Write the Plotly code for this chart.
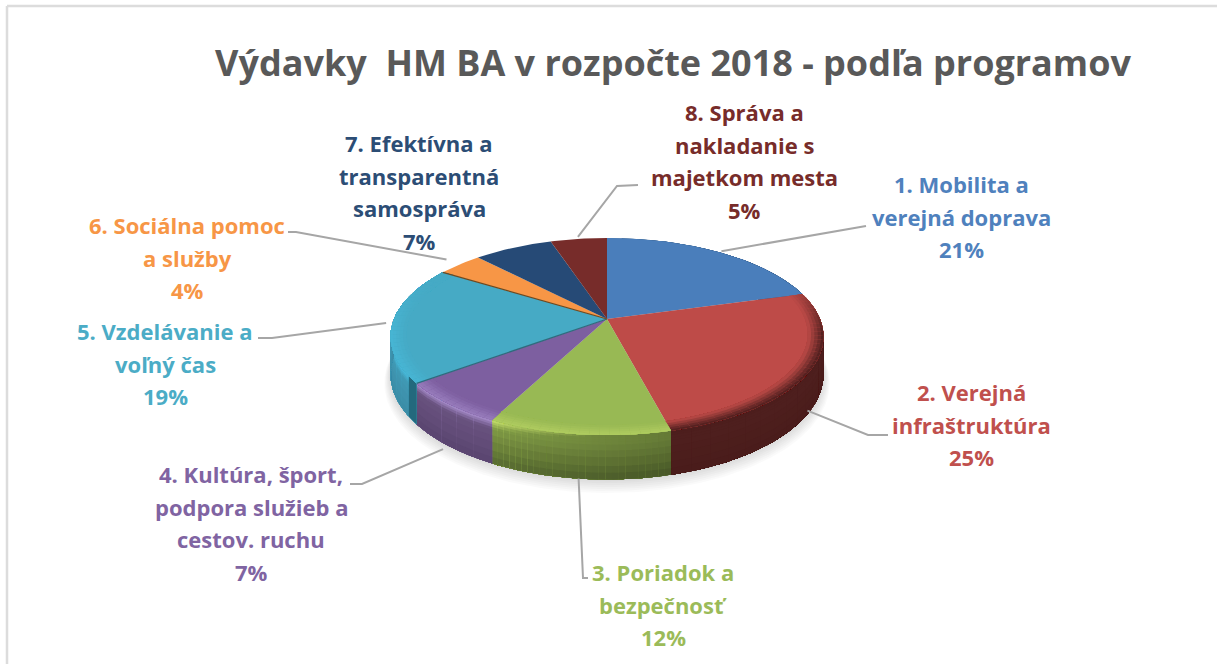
import math
import plotly.graph_objects as go

# ---- data ----
categories = [
    ["1. Mobilita a", "verejná doprava"],
    ["2. Verejná", "infraštruktúra"],
    ["3. Poriadok a", "bezpečnosť"],
    ["4. Kultúra, šport,", "podpora služieb a", "cestov. ruchu"],
    ["5. Vzdelávanie a", "voľný čas"],
    ["6. Sociálna pomoc", "a služby"],
    ["7. Efektívna a", "transparentná", "samospráva"],
    ["8. Správa a", "nakladanie s", "majetkom mesta"],
]
values = [20.6, 25.4, 11.5, 7.2, 19.3, 4, 7, 5]
title_text = "Výdavky  HM BA v rozpočte 2018 - podľa programov"

# ---- styles ----
top_colors = ["#4A7EBB", "#BE4B48", "#98B954", "#7D5FA0", "#46AAC5", "#F79646", "#264A76", "#772C2A"]
text_colors = ["#4F81BD", "#C0504D", "#9BBB59", "#8064A2", "#4BACC6", "#F79646", "#2C4D75", "#772C2A"]
rim_colors = ["#4A7EBB", "#4D1E1D", "#BFD968", "#A98FCE", "#48BEDF", "#F79646", "#264A76", "#772C2A"]
wall_top = ["#3A6391", "#4E1F1E", "#7A9442", "#69527F", "#4099B4", "#B06A30", "#1C3759", "#561F1E"]
wall_bot = ["#2E4F75", "#4A1C1B", "#55672F", "#5A4570", "#3B8CA6", "#8F5626", "#162B46", "#441817"]
# x, y of the first text line (centre), per label
label_pos = [(961, 184), (971, 392), (663, 572), (251, 474), (165, 331), (187, 225), (419, 143), (744, 112)]
line_pitch = 32.5
label_size = 22
# leader: (slice index, radial factor, on wall?, elbow, end)
leaders = [
    (0, 1.02, False, (866, 226), (866, 226)),
    (1, 0.99, True, (868, 435), (888, 435)),
    (2, 1.0, True, (583, 578), (588, 578)),
    (3, 1.03, True, (362, 484), (350, 484)),
    (4, 1.03, False, (272, 338), (258, 338)),
    (5, 1.1, False, (296, 232), (288, 232)),
    (7, 1.03, False, (617, 186), (638, 185)),
]

# ---- projection of a tilted disc (plot coordinates = page pixels) ----
X0, Y0 = 607, 319
BX, AY, K = 213, 95.4, 0.178
DEPTH = 36.5


def proj(theta, r=1.0, drop=0.0):
    u, v = r * math.sin(theta), r * math.cos(theta)
    w = 1 + K * v
    return X0 + BX * u / w, Y0 - AY * v / w + drop * DEPTH / w


def hex2rgb(c):
    return tuple(int(c[i:i + 2], 16) for i in (1, 3, 5))


def mix(a, b, t):
    t = max(0.0, min(1.0, t))
    ra, rb = hex2rgb(a), hex2rgb(b)
    return "#%02X%02X%02X" % tuple(round(p + (q - p) * t) for p, q in zip(ra, rb))


def shade(c, f):
    return "#%02X%02X%02X" % tuple(min(255, round(p * f)) for p in hex2rgb(c))


fig = go.Figure()


def poly(pts, color):
    fig.add_trace(go.Scatter(
        x=[p[0] for p in pts], y=[p[1] for p in pts], mode="lines", fill="toself",
        fillcolor=color, line=dict(color="rgba(0,0,0,0)", width=0),
        hoverinfo="skip", showlegend=False))


def arc(t0, t1, r=1.0, drop=0.0):
    n = max(3, int(abs(t1 - t0) / 0.02))
    return [proj(t0 + (t1 - t0) * j / n, r, drop) for j in range(n + 1)]


total = sum(values)
edges = [0.0]
for val in values:
    edges.append(edges[-1] + val / total * 2 * math.pi)

# soft shadow below the disc
for i in range(7):
    e = 1.0 + 0.004 * (7 - i)
    poly(arc(0, 2 * math.pi, e, 1.0 + 0.03 * (7 - i)), "rgba(0,0,0,0.018)")

# side walls: columns and rows are painted overlapping, so no seams show
rows = [0.0, 0.05, 0.1, 0.16, 0.22, 0.35, 0.5, 0.7, 0.85]
for s in range(len(values)):
    a0, a1 = edges[s], edges[s + 1]
    if math.cos(a0) > 0.3 and math.cos(a1) > 0.3:
        continue
    n = max(4, int((a1 - a0) / (0.025 if s == 2 else 0.08)))
    for j in range(n):
        t0 = a0 + (a1 - a0) * j / n
        tm = a0 + (a1 - a0) * (j + 0.5) / n
        lit = 1.0 - 0.35 * math.sin(tm) if s == 2 else 1.0
        fade = max(0.0, min(1.0, (0.35 - math.cos(tm)) / 0.6))
        if s == 2:
            fade = max(0.0, min(1.0, -math.sin(tm) * 2.2))
        for k, d0 in enumerate(rows):
            d1 = rows[k + 1] if k + 1 < len(rows) else 1.0
            dm = (d0 + d1) / 2
            if dm < 0.2:
                col = mix(rim_colors[s], wall_top[s], dm / 0.2 + (1 - fade))
            else:
                col = mix(wall_top[s], wall_bot[s], (dm - 0.2) / 0.8)
            if s == 2:
                col = shade(col, lit * 0.9)
            poly(arc(t0, a1, 1, d0) + arc(a1, t0, 1, 1.0), col)

# dark cut end of slice 5
a = edges[4]
a2 = a + 0.012 * 2 * math.pi
poly(arc(a, a2, 1, 0.0) + arc(a2, a, 1, 1.0), "#23697D")

# top faces
for s in range(len(values)):
    poly([(X0, Y0)] + arc(edges[s], edges[s + 1]), top_colors[s])

# bevel along the front rim
bands = [0.93, 0.945, 0.96, 0.975, 0.99]
for s in range(1, 5):
    a0, a1 = edges[s], edges[s + 1]
    n = max(4, int((a1 - a0) / 0.04))
    for j in range(n):
        t0 = a0 + (a1 - a0) * j / n
        tm = a0 + (a1 - a0) * (j + 0.5) / n
        fade = max(0.0, min(1.0, (0.45 - math.cos(tm)) / 0.6))
        for k, r0 in enumerate(bands):
            r1 = bands[k + 1] if k + 1 < len(bands) else 1.0
            q = ((r0 + r1) / 2 - bands[0]) / (1.0 - bands[0])
            col = mix(top_colors[s], rim_colors[s], q * fade * (1.0 if s == 1 else 0.6))
            poly(arc(t0, a1, r0) + arc(a1, t0, 1.0), col)

# thin dark creases beside slice 5
for ang, col in ((edges[4], "#2F6B7D"), (edges[5], "#6D4A20")):
    end = proj(ang)
    fig.add_trace(go.Scatter(x=[X0, end[0]], y=[Y0, end[1]], mode="lines",
                             line=dict(color=col, width=1.2), hoverinfo="skip", showlegend=False))

# leader lines
for s, r, on_wall, elbow, end in leaders:
    mid = (edges[s] + edges[s + 1]) / 2
    start = proj(mid, r, 1.0 if on_wall else 0.0)
    fig.add_trace(go.Scatter(x=[start[0], elbow[0], end[0]], y=[start[1], elbow[1], end[1]],
                             mode="lines", line=dict(color="#A6A6A6", width=2),
                             hoverinfo="skip", showlegend=False))

# labels
annotations = []
for s, lines in enumerate(categories):
    cx, cy = label_pos[s]
    pct = "%d%%" % round(values[s] / total * 100)
    for i, line in enumerate(lines + [pct]):
        annotations.append(dict(
            x=cx, y=cy + i * line_pitch, xref="x", yref="y", text="<b>%s</b>" % line,
            showarrow=False, xanchor="center", yanchor="middle",
            font=dict(family="Open Sans", size=label_size, color=text_colors[s])))
annotations.append(dict(
    x=673, y=62, xref="x", yref="y", text="<b>%s</b>" % title_text, showarrow=False,
    xanchor="center", yanchor="middle",
    font=dict(family="Open Sans", size=36, color="#595959")))

# frame
shapes = [
    dict(type="line", x0=7, x1=1217, y0=6, y1=6, line=dict(color="#DCDCDC", width=2.5), layer="below"),
    dict(type="line", x0=7, x1=7, y0=6, y1=664, line=dict(color="#DCDCDC", width=2.5), layer="below"),
]

fig.update_layout(
    width=1217, height=664, margin=dict(l=0, r=0, t=0, b=0),
    paper_bgcolor="white", plot_bgcolor="white", showlegend=False,
    xaxis=dict(range=[0, 1217], visible=False, fixedrange=True),
    yaxis=dict(range=[664, 0], visible=False, fixedrange=True),
    annotations=annotations, shapes=shapes)
fig.write_html("out.html", config=dict(displayModeBar=False),
               post_script="document.body.style.margin='0';document.body.style.overflow='hidden';")
